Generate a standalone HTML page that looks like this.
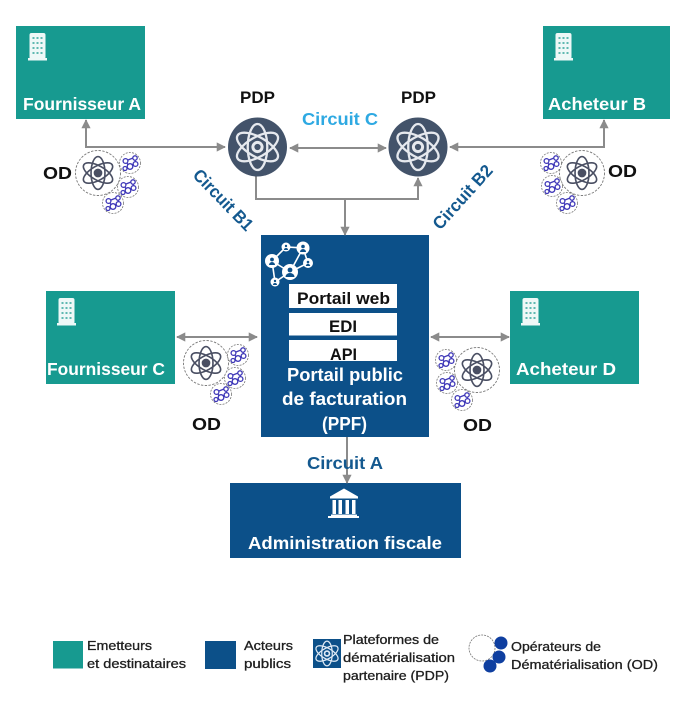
<!DOCTYPE html>
<html><head><meta charset="utf-8">
<style>
html,body{margin:0;padding:0;background:#fff}
svg{display:block;filter:blur(.35px)}
text{font-family:"Liberation Sans",sans-serif;font-weight:bold}
.w{fill:#fff;font-size:17.5px}
.p{fill:#fff;font-size:18px}
.k{fill:#111;font-size:16.5px}
.o{fill:#111;font-size:17.5px}
.b{fill:#111;font-size:16.5px}
.l{fill:#1e1e1e;font-size:13px;font-weight:normal;stroke:#1e1e1e;stroke-width:.3}
.c{fill:#14598f;font-size:17.5px}
</style></head><body>
<svg width="696" height="711" viewBox="0 0 696 711" xmlns="http://www.w3.org/2000/svg">
<defs>
<g id="atom" fill="none">
<ellipse rx="8.500" ry="20" stroke-width="2"/>
<ellipse rx="8.500" ry="20" stroke-width="2" transform="rotate(60)"/>
<ellipse rx="8.500" ry="20" stroke-width="2" transform="rotate(-60)"/>
<circle r="4" stroke-width="2.600"/>
</g>
<g id="bld">
<rect x="1.500" y="1" width="16" height="26" rx="2" fill="#eef8f7"/>
<rect x="0" y="26" width="19" height="2.500" fill="#eef8f7"/>
<g fill="#5fb9b1">
<rect x="4.500" y="5" width="2" height="2"/><rect x="8.500" y="5" width="2" height="2"/><rect x="12.500" y="5" width="2" height="2"/>
<rect x="4.500" y="10" width="2" height="2"/><rect x="8.500" y="10" width="2" height="2"/><rect x="12.500" y="10" width="2" height="2"/>
<rect x="4.500" y="15" width="2" height="2"/><rect x="8.500" y="15" width="2" height="2"/><rect x="12.500" y="15" width="2" height="2"/>
<rect x="4.500" y="20" width="2" height="2"/><rect x="8.500" y="20" width="2" height="2"/><rect x="12.500" y="20" width="2" height="2"/>
</g>
</g>
<g id="sm">
<circle r="10.500" fill="#fff" stroke="#777" stroke-width=".8" stroke-dasharray="2 1.200"/>
<g fill="none" stroke="#3f38b8" stroke-width="1.300">
<circle cx="-4.500" cy="-2" r="2.400"/><circle cx="5" cy="-5" r="2.200"/><circle cx="5.500" cy="1" r="2.400"/><circle cx="0" cy="3.500" r="2.800"/><circle cx="-5" cy="5.500" r="2"/>
<path d="M-2-3L3-5M-3 0L-2 2M2 2L4 2M5-3L5.500-1M-3 5L-2 5"/>
</g>
</g>
<g id="od">
<circle r="22.500" fill="#fff" stroke="#777" stroke-width=".9" stroke-dasharray="2.400 1.400"/>
<use href="#atom" transform="scale(.82)" stroke="#4a4f63"/>
<circle r="3" fill="#4a4f63"/>
</g>
<marker id="ah" viewBox="0 0 10 10" refX="9" refY="5" markerWidth="4.600" markerHeight="5" orient="auto-start-reverse">
<path d="M0 0L10 5L0 10Z" fill="#8b8b8b"/>
</marker>
</defs>

<!-- boxes -->
<rect x="16" y="26" width="129" height="93" fill="#179a90"/>
<rect x="543" y="26" width="127" height="93" fill="#179a90"/>
<rect x="46" y="291" width="129" height="93" fill="#179a90"/>
<rect x="510" y="291" width="129" height="93" fill="#179a90"/>
<rect x="261" y="235" width="168" height="202" fill="#0c5089"/>
<rect x="230" y="483" width="231" height="75" fill="#0c5089"/>

<use href="#bld" x="28" y="32"/>
<use href="#bld" x="554" y="32"/>
<use href="#bld" x="57" y="297"/>
<use href="#bld" x="521" y="297"/>

<!-- connectors -->
<g fill="none" stroke="#8b8b8b" stroke-width="2">
<path d="M225 147H86V120" marker-start="url(#ah)" marker-end="url(#ah)"/>
<path d="M290 148H386" marker-start="url(#ah)" marker-end="url(#ah)"/>
<path d="M450 147H604V120" marker-start="url(#ah)" marker-end="url(#ah)"/>
<path d="M256 176V199H418V178" marker-end="url(#ah)"/>
<path d="M345 199V235" marker-end="url(#ah)"/>
<path d="M177 337H257" marker-start="url(#ah)" marker-end="url(#ah)"/>
<path d="M431 337H509" marker-start="url(#ah)" marker-end="url(#ah)"/>
<path d="M347 437V483" marker-end="url(#ah)"/>
</g>

<!-- PDP -->
<circle cx="257.500" cy="147" r="29.500" fill="#43536a"/>
<circle cx="418" cy="147" r="29.500" fill="#43536a"/>
<use href="#atom" transform="translate(257.500 147) scale(1.150)" stroke="#e6e9ee"/>
<use href="#atom" transform="translate(418 147) scale(1.150)" stroke="#e6e9ee"/>

<!-- OD clusters -->
<use href="#od" x="98" y="173"/><use href="#sm" x="130" y="163"/><use href="#sm" x="128" y="187"/><use href="#sm" x="113" y="203"/>
<use href="#od" x="582" y="173"/><use href="#sm" x="551" y="163"/><use href="#sm" x="552" y="186"/><use href="#sm" x="567" y="203"/>
<use href="#od" x="206" y="363"/><use href="#sm" x="238" y="355"/><use href="#sm" x="235" y="378"/><use href="#sm" x="221" y="394"/>
<use href="#od" x="477" y="370"/><use href="#sm" x="446" y="360"/><use href="#sm" x="447" y="383"/><use href="#sm" x="462" y="400"/>

<!-- labels in boxes -->
<text class="w" x="23" y="110" textLength="118" lengthAdjust="spacingAndGlyphs">Fournisseur A</text>
<text class="w" x="548" y="110" textLength="98" lengthAdjust="spacingAndGlyphs">Acheteur B</text>
<text class="w" x="47" y="375" textLength="118" lengthAdjust="spacingAndGlyphs">Fournisseur C</text>
<text class="w" x="516" y="375" textLength="100" lengthAdjust="spacingAndGlyphs">Acheteur D</text>

<!-- PPF inner -->
<rect x="289" y="284" width="108" height="24" fill="#fff"/>
<rect x="289" y="313" width="108" height="22.500" fill="#fff"/>
<rect x="289" y="340" width="108" height="21" fill="#fff"/>
<text class="b" x="297" y="304" textLength="93" lengthAdjust="spacingAndGlyphs">Portail web</text>
<text class="b" x="329" y="332" textLength="28" lengthAdjust="spacingAndGlyphs">EDI</text>
<text class="b" x="330" y="360" textLength="27" lengthAdjust="spacingAndGlyphs">API</text>
<text class="p" x="287" y="381" textLength="116" lengthAdjust="spacingAndGlyphs">Portail public</text>
<text class="p" x="282" y="405" textLength="125" lengthAdjust="spacingAndGlyphs">de facturation</text>
<text class="p" x="322" y="430" textLength="45" lengthAdjust="spacingAndGlyphs">(PPF)</text>

<!-- network icon -->
<g stroke="#fff" stroke-width="1.600" fill="none">
<path d="M272 261L286 247L303 248L290 272L272 261M303 248L308 263L290 272L275 282L272 261"/>
</g>
<g fill="#fff">
<circle cx="290" cy="272" r="8"/><circle cx="303" cy="248" r="6.500"/><circle cx="272" cy="261" r="7"/><circle cx="308" cy="263" r="5"/><circle cx="286" cy="247" r="4.500"/><circle cx="275" cy="282" r="4.500"/>
</g>
<g fill="#0c5089">
<circle cx="290" cy="270" r="2.400"/><path d="M285.500 277a4.500 4 0 0 1 9 0Z"/>
<circle cx="303" cy="246.500" r="1.800"/><path d="M300 252a3 3 0 0 1 6 0Z"/>
<circle cx="272" cy="259.500" r="1.900"/><path d="M269 265a3 3 0 0 1 6 0Z"/>
<circle cx="308" cy="262" r="1.300"/><path d="M305.800 266a2.200 2.200 0 0 1 4.400 0Z"/>
<circle cx="286" cy="246" r="1.200"/><path d="M284 250a2 2 0 0 1 4 0Z"/>
<circle cx="275" cy="281" r="1.200"/><path d="M273 285a2 2 0 0 1 4 0Z"/>
</g>

<!-- admin -->
<g fill="#fff">
<path d="M344 488.500L358 496.500V498.500H330V496.500Z"/>
<rect x="332.500" y="500" width="3.500" height="14"/><rect x="338.500" y="500" width="3.500" height="14"/><rect x="345.500" y="500" width="3.500" height="14"/><rect x="352" y="500" width="3.500" height="14"/>
<rect x="331" y="514.500" width="26" height="1.500"/><rect x="328" y="516" width="31" height="2"/>
</g>
<text class="w" x="248" y="549" textLength="194" lengthAdjust="spacingAndGlyphs">Administration fiscale</text>

<!-- outside labels -->
<text class="k" x="240" y="103" textLength="35" lengthAdjust="spacingAndGlyphs">PDP</text>
<text class="k" x="401" y="103" textLength="35" lengthAdjust="spacingAndGlyphs">PDP</text>
<text class="o" x="43" y="179" textLength="29" lengthAdjust="spacingAndGlyphs">OD</text>
<text class="o" x="608" y="177" textLength="29" lengthAdjust="spacingAndGlyphs">OD</text>
<text class="o" x="192" y="430" textLength="29" lengthAdjust="spacingAndGlyphs">OD</text>
<text class="o" x="463" y="431" textLength="29" lengthAdjust="spacingAndGlyphs">OD</text>
<text class="c" x="302" y="125" textLength="76" lengthAdjust="spacingAndGlyphs" style="fill:#2ea9e2">Circuit C</text>
<text class="c" x="307" y="469" textLength="76" lengthAdjust="spacingAndGlyphs">Circuit A</text>
<text class="c" text-anchor="middle" transform="translate(219 204) rotate(46)" textLength="78" lengthAdjust="spacingAndGlyphs">Circuit B1</text>
<text class="c" text-anchor="middle" transform="translate(467 201) rotate(-48)" textLength="80" lengthAdjust="spacingAndGlyphs">Circuit B2</text>

<!-- legend -->
<rect x="53" y="641" width="30" height="27.500" fill="#179a90"/>
<rect x="205" y="641" width="31" height="28" fill="#0c5089"/>
<rect x="313" y="639" width="28" height="29" fill="#0c5089"/>
<use href="#atom" transform="translate(327 653.500) scale(.62)" stroke="#dfeaf5"/>
<circle cx="482" cy="648" r="13" fill="#fff" stroke="#777" stroke-width=".8" stroke-dasharray="2 1"/>
<g fill="#0f3fa0"><circle cx="501" cy="643" r="6.500"/><circle cx="499" cy="657" r="6.500"/><circle cx="490" cy="666" r="6.500"/></g>

<text class="l" x="87" y="650" textLength="65" lengthAdjust="spacingAndGlyphs">Emetteurs</text>
<text class="l" x="87" y="668" textLength="99" lengthAdjust="spacingAndGlyphs">et destinataires</text>
<text class="l" x="244" y="650" textLength="49" lengthAdjust="spacingAndGlyphs">Acteurs</text>
<text class="l" x="244" y="668" textLength="47" lengthAdjust="spacingAndGlyphs">publics</text>
<text class="l" x="343" y="644" textLength="96" lengthAdjust="spacingAndGlyphs">Plateformes de</text>
<text class="l" x="343" y="662" textLength="112" lengthAdjust="spacingAndGlyphs">dématérialisation</text>
<text class="l" x="343" y="680" textLength="106" lengthAdjust="spacingAndGlyphs">partenaire (PDP)</text>
<text class="l" x="511" y="651" textLength="90" lengthAdjust="spacingAndGlyphs">Opérateurs de</text>
<text class="l" x="511" y="669" textLength="147" lengthAdjust="spacingAndGlyphs">Dématérialisation (OD)</text>
</svg>
</body></html>
